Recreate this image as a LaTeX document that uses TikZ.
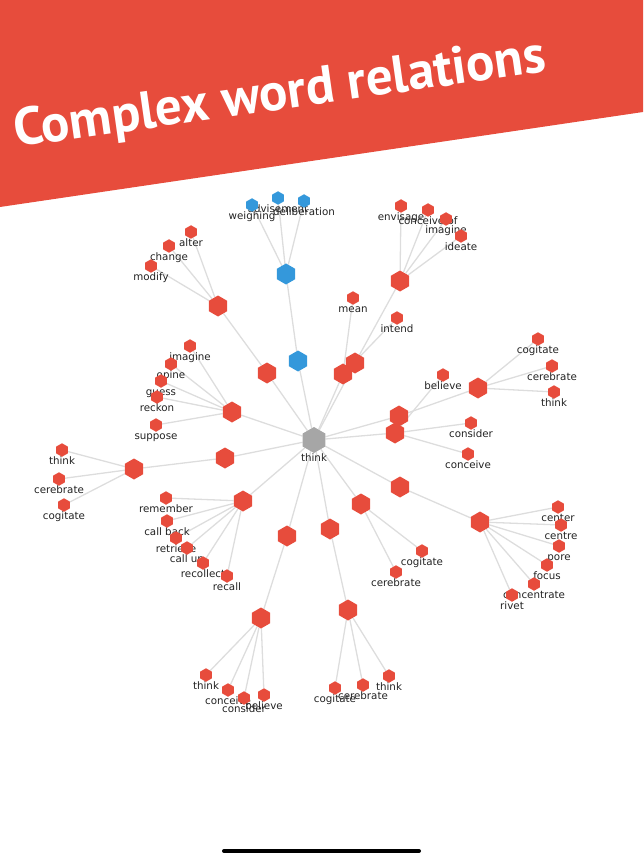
\documentclass[tikz,border=0pt]{standalone}
\usepackage{fontspec}
\setmainfont{DejaVu Sans}
\newfontfamily\titlefont{PT Sans}
\usetikzlibrary{shapes.geometric}
\definecolor{wred}{HTML}{E74C3C}
\definecolor{wblue}{HTML}{3498DB}
\definecolor{wgray}{HTML}{A6A6A6}
\definecolor{edgegray}{HTML}{DDDDDD}
\definecolor{lbltext}{HTML}{222222}
\pgfdeclarelayer{edges}
\pgfdeclarelayer{lbls}
\pgfsetlayers{edges,lbls,main}
\tikzset{
  hexbase/.style={regular polygon, regular polygon sides=6, shape border rotate=30, inner sep=0pt, draw=none},
  hub/.style={hexbase, minimum size=21pt, fill=wred},
  leaf/.style={hexbase, minimum size=13.5pt, fill=wred},
  bhub/.style={hexbase, minimum size=21pt, fill=wblue},
  bleaf/.style={hexbase, minimum size=13.5pt, fill=wblue},
  root/.style={hexbase, minimum size=26pt, fill=wgray},
  lbl/.style={font=\fontsize{10.3}{12}\selectfont, text=lbltext, inner sep=0pt, anchor=base},
  edge/.style={draw=edgegray, line width=1.3pt},
  header/.style={fill=wred, draw=none},
  titletext/.style={font=\titlefont\bfseries\fontsize{53}{56}\selectfont, text=white, inner sep=0pt, anchor=base west, rotate=8.1},
  homebar/.style={line width=4pt, line cap=round, draw=black}
}
\newcommand\leafnode[5][leaf]{%
  \node[#1] (#2) at (#3,#4) {};
  \begin{pgfonlayer}{lbls}\node[lbl] (#2-t) at (#3,#4+14.5) {#5};\end{pgfonlayer}}
\newcommand\lnk[2]{\begin{pgfonlayer}{edges}\draw[edge] (#1) -- (#2);\end{pgfonlayer}}
\begin{document}
\begin{tikzpicture}[x=1pt,y=-1pt]
\useasboundingbox (0,0) rectangle (643,858);
\fill[header] (0,0) -- (643,0) -- (643,112) -- (0,207) -- cycle;
\node[titletext] (title) at (16,147) {Complex word relations};

% root
\node[root] (root) at (314,440) {};
\begin{pgfonlayer}{lbls}\node[lbl] (root-t) at (314,461.5) {think};\end{pgfonlayer}

% blue chain
\node[bhub] (b1) at (298,361) {};
\node[bhub] (b2) at (286,274) {};
\leafnode[bleaf]{weighing}{252}{205}{weighing}
\leafnode[bleaf]{advisement}{278}{198}{advisement}
\leafnode[bleaf]{deliberation}{304}{201}{deliberation}
\lnk{root}{b1}\lnk{b1}{b2}
\lnk{b2}{weighing}\lnk{b2}{advisement}\lnk{b2}{deliberation}

% alter group
\node[hub] (h1) at (267,373) {};
\node[hub] (h2) at (218,306) {};
\leafnode{alter}{191}{232}{alter}
\leafnode{change}{169}{246}{change}
\leafnode{modify}{151}{266}{modify}
\lnk{root}{h1}\lnk{h1}{h2}
\lnk{h2}{alter}\lnk{h2}{change}\lnk{h2}{modify}

% mean group
\node[hub] (h3) at (343,374) {};
\leafnode{mean}{353}{298}{mean}
\leafnode{intend}{397}{318}{intend}
\lnk{root}{h3}\lnk{h3}{mean}\lnk{h3}{intend}

% envisage group
\node[hub] (h4) at (355,363) {};
\node[hub] (h5) at (400,281) {};
\leafnode{envisage}{401}{206}{envisage}
\leafnode{conceiveof}{428}{210}{conceive of}
\leafnode{imagineA}{446}{219}{imagine}
\leafnode{ideate}{461}{236}{ideate}
\lnk{root}{h4}\lnk{h4}{h5}
\lnk{h5}{envisage}\lnk{h5}{conceiveof}\lnk{h5}{imagineA}\lnk{h5}{ideate}

% opine group
\node[hub] (h6) at (232,412) {};
\leafnode{imagineB}{190}{346}{imagine}
\leafnode{opine}{171}{364}{opine}
\leafnode{guess}{161}{381}{guess}
\leafnode{reckon}{157}{397}{reckon}
\leafnode{suppose}{156}{425}{suppose}
\lnk{root}{h6}
\lnk{h6}{imagineB}\lnk{h6}{opine}\lnk{h6}{guess}\lnk{h6}{reckon}\lnk{h6}{suppose}

% left think group
\node[hub] (h7) at (225,458) {};
\node[hub] (h8) at (134,469) {};
\leafnode{thinkA}{62}{450}{think}
\leafnode{cerebrateA}{59}{479}{cerebrate}
\leafnode{cogitateA}{64}{505}{cogitate}
\lnk{root}{h7}\lnk{h7}{h8}
\lnk{h8}{thinkA}\lnk{h8}{cerebrateA}\lnk{h8}{cogitateA}

% remember group
\node[hub] (h9) at (243,501) {};
\leafnode{remember}{166}{498}{remember}
\leafnode{callback}{167}{521}{call back}
\leafnode{retrieve}{176}{538}{retrieve}
\leafnode{callup}{187}{548}{call up}
\leafnode{recollect}{203}{563}{recollect}
\leafnode{recall}{227}{576}{recall}
\lnk{root}{h9}
\lnk{h9}{remember}\lnk{h9}{callback}\lnk{h9}{retrieve}\lnk{h9}{callup}\lnk{h9}{recollect}\lnk{h9}{recall}

% bottom-left group
\node[hub] (h10) at (287,536) {};
\node[hub] (h11) at (261,618) {};
\leafnode{thinkB}{206}{675}{think}
\leafnode{conceiveB}{228}{690}{conceive}
\leafnode{considerB}{244}{698}{consider}
\leafnode{believeB}{264}{695}{believe}
\lnk{root}{h10}\lnk{h10}{h11}
\lnk{h11}{thinkB}\lnk{h11}{conceiveB}\lnk{h11}{considerB}\lnk{h11}{believeB}

% bottom-middle group
\node[hub] (h12) at (330,529) {};
\node[hub] (h13) at (348,610) {};
\leafnode{cogitateB}{335}{688}{cogitate}
\leafnode{cerebrateB}{363}{685}{cerebrate}
\leafnode{thinkC}{389}{676}{think}
\lnk{root}{h12}\lnk{h12}{h13}
\lnk{h13}{cogitateB}\lnk{h13}{cerebrateB}\lnk{h13}{thinkC}

% cogitate/cerebrate group
\node[hub] (h14) at (361,504) {};
\leafnode{cogitateC}{422}{551}{cogitate}
\leafnode{cerebrateC}{396}{572}{cerebrate}
\lnk{root}{h14}\lnk{h14}{cogitateC}\lnk{h14}{cerebrateC}

% focus group
\node[hub] (h15) at (400,487) {};
\node[hub] (h16) at (480,522) {};
\leafnode{center}{558}{507}{center}
\leafnode{centre}{561}{525}{centre}
\leafnode{pore}{559}{546}{pore}
\leafnode{focus}{547}{565}{focus}
\leafnode{concentrate}{534}{584}{concentrate}
\leafnode{rivet}{512}{595}{rivet}
\lnk{root}{h15}\lnk{h15}{h16}
\lnk{h16}{center}\lnk{h16}{centre}\lnk{h16}{pore}\lnk{h16}{focus}\lnk{h16}{concentrate}\lnk{h16}{rivet}

% right think group
\node[hub] (h17) at (399,416) {};
\node[hub] (h18) at (478,388) {};
\leafnode{cogitateD}{538}{339}{cogitate}
\leafnode{cerebrateD}{552}{366}{cerebrate}
\leafnode{thinkD}{554}{392}{think}
\lnk{root}{h17}\lnk{h17}{h18}
\lnk{h18}{cogitateD}\lnk{h18}{cerebrateD}\lnk{h18}{thinkD}

% consider group
\node[hub] (h19) at (395,433) {};
\leafnode{considerC}{471}{423}{consider}
\leafnode{conceiveC}{468}{454}{conceive}
\leafnode{believeC}{443}{375}{believe}
\lnk{root}{h19}\lnk{h19}{considerC}\lnk{h19}{conceiveC}\lnk{h19}{believeC}

% home indicator
\coordinate (barL) at (224,851);
\coordinate (barR) at (419,851);
\draw[homebar] (barL) -- (barR);
\end{tikzpicture}
\end{document}
